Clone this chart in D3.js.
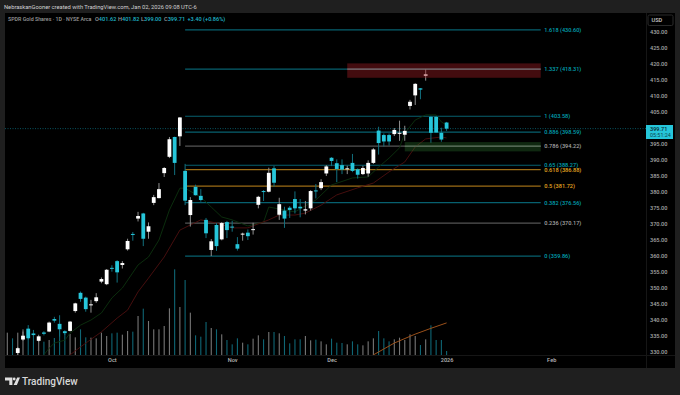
<!DOCTYPE html>
<html><head><meta charset="utf-8">
<script src="https://cdnjs.cloudflare.com/ajax/libs/d3/7.8.5/d3.min.js"></script>
<style>html,body{margin:0;padding:0;background:#1f1f1f;overflow:hidden}svg{display:block}text{font-family:Roboto,"Noto Sans",sans-serif}</style>
</head><body><svg id="c" width="680" height="395"></svg>
<script>
const opens=[327.2,328.4,329.6,333.8,337.2,335.7,333.4,336.0,336.3,340.2,338.7,336.4,336.5,342.7,348.4,346.9,344.5,345.8,351.9,351.1,356.2,358.3,357.1,362.0,366.8,371.6,373.2,367.5,376.5,378.0,385.8,390.9,397.1,397.3,386.5,372.7,381.5,378.7,371.2,361.8,369.6,365.1,370.5,369.1,363.6,366.6,367.2,368.0,375.9,380.2,380.0,387.3,372.8,374.1,375.0,377.7,375.3,374.1,374.8,380.4,381.1,385.7,390.6,388.9,388.3,387.0,389.0,387.0,385.5,385.7,389.0,399.1,397.7,397.7,398.0,398.1,397.8,406.8,410.1,412.3,416.2,403.4,403.4,398.4,401.62];
const highs=[328.0,328.6,331.5,336.3,338.3,336.8,335.3,336.4,339.4,340.9,341.4,336.7,339.6,345.3,348.8,347.2,346.2,348.3,353.2,355.8,357.0,358.6,358.3,365.3,367.4,373.7,373.4,370.4,379.0,382.7,387.7,397.1,397.2,403.3,388.7,378.3,382.2,380.8,371.8,365.2,370.2,370.5,370.9,370.9,365.8,367.2,368.2,370.3,378.7,380.5,387.5,388.1,378.1,375.3,375.5,380.1,377.7,377.1,380.5,382.4,383.9,388.3,390.8,390.1,390.1,388.1,391.8,387.3,388.1,389.8,393.6,400.3,398.2,398.2,399.9,402.2,400.6,408.7,413.9,412.4,418.3,403.7,403.6,400.0,401.82];
const lows=[326.9,327.0,329.0,333.4,333.8,334.7,333.1,335.1,336.1,339.1,334.7,335.2,336.3,342.2,345.6,342.5,342.2,345.3,351.4,350.8,355.0,351.6,356.0,361.6,364.7,370.7,363.0,365.3,375.8,377.9,384.6,390.5,385.2,394.3,375.8,369.1,378.8,376.9,365.5,359.9,361.5,364.8,365.5,367.5,361.6,364.7,364.9,366.6,374.8,377.1,379.8,381.5,371.2,368.7,371.8,373.2,372.0,372.9,374.1,377.9,380.5,384.9,388.0,383.0,385.5,385.5,386.1,384.1,385.2,384.7,388.7,391.6,394.1,394.4,397.4,395.9,395.9,405.7,407.1,408.9,414.7,395.3,398.4,395.6,399.00];
const closes=[327.8,327.6,331.1,335.0,334.2,335.2,334.8,335.6,339.1,339.7,337.0,335.8,339.4,345.1,346.5,343.3,344.8,347.0,352.7,355.6,355.9,354.8,357.7,364.6,366.5,372.4,365.3,369.2,378.3,380.8,387.4,396.4,389.0,403.2,377.2,377.4,378.9,377.4,367.0,364.5,363.0,370.2,368.0,368.9,362.2,366.9,366.1,368.3,378.4,379.9,385.9,382.8,376.1,371.6,374.3,374.8,374.8,374.5,380.2,380.1,383.0,387.9,389.6,387.1,386.9,387.3,386.5,385.3,387.4,389.0,393.2,395.2,395.7,395.7,399.3,398.4,399.0,408.1,413.7,411.9,416.7,398.4,398.5,396.3,399.71];
const volumes=[6.7,5.0,6.7,7.7,7.9,6.3,5.5,4.0,4.5,5.1,7.5,6.5,6.3,5.3,7.7,5.3,5.2,5.0,6.7,5.7,6.5,6.7,6.1,7.2,7.0,11.7,13.9,10.2,7.7,7.7,8.7,14.0,25.7,14.4,22.5,12.7,5.9,5.5,9.9,8.1,7.7,6.2,4.5,3.2,5.0,3.7,3.2,4.9,5.9,4.7,6.9,6.9,6.5,5.7,3.5,4.7,4.7,5.7,4.4,4.6,4.1,3.2,4.9,3.7,3.6,3.2,4.1,3.2,2.9,4.1,5.0,7.2,5.0,4.1,4.7,5.2,4.5,6.2,5.7,3.0,4.7,8.9,4.5,4.5,1.2];
const fastIndex=[7,8,9,11,12,14,16,18,20,22,25,27,29,31,33,34,36,37,39,41,43,46,49,50,55,59,62,66,69,71,73,75,76,78,80,82,83,84];
const fastPrice=[329.0,331.1,332.7,333.6,335.8,338.3,339.9,342.1,346.8,349.9,357.1,359.6,364.9,374.3,381.1,381.1,379.2,378.3,375.2,372.1,371.2,369.3,370.5,375.2,373.7,377.4,382.1,384.3,384.6,387.7,390.5,393.7,398.3,402.4,404.0,404.0,401.8,400.8];
const slowIndex=[12,14,18,21,23,25,27,30,31,33,35,37,40,43,46,50,52,55,57,60,63,67,70,73,76,78,80,83,84];
const slowPrice=[329.0,331.5,336.2,340.5,343.0,348.7,353.0,359.6,362.4,368.0,369.6,371.2,370.2,368.7,368.7,371.2,372.7,372.7,373.3,375.8,379.0,381.2,382.7,386.2,389.3,394.0,396.5,397.1,396.8];
const trendIndex=[70,74,78,81,84];
const trendPrice=[329.0,332.7,335.5,337.3,339.0];
const fibRatios=["1.618","1.337","1","0.886","0.786","0.65","0.618","0.5","0.382","0.236","0"];
const fibLevels=[430.60,418.31,403.58,398.59,394.22,388.27,386.88,381.72,376.56,370.17,359.86];
const fibKinds=["t","t","t","t","g","t","o","o","t","g","t"];
const priceTicks=d3.range(330,431,5);
const monthIndex=[20,43,62,84,104];
const monthNames=["Oct","Nov","Dec","2026","Feb"];
const fibStartIndex=34,fibEndIndex=102;
const redZone=[420.1,415.6];const redStart=65;
const greenZone=[395.5,392.6];const greenStart=76;
const lastPrice=399.71;

const svg=d3.select("#c");
const x=d3.scaleLinear().domain([0,84]).range([7.3,446.6]);
const y=d3.scaleLinear().domain([420,330]).range([63.7,351.7]);
const yv=d3.scaleLinear().domain([0,30]).range([355,255]);
const UP="#ffffff",DN="#26c6da";
svg.append("rect").attr("width",680).attr("height",395).attr("fill","#1f1f1f");
svg.append("rect").attr("x",5).attr("y",13).attr("width",670).attr("height",355).attr("fill","#000");
svg.append("defs").append("clipPath").attr("id","pane").append("rect").attr("x",5).attr("y",13).attr("width",641).attr("height",342);
svg.append("line").attr("x1",646.5).attr("x2",646.5).attr("y1",13).attr("y2",368).attr("stroke","#161616");
svg.append("line").attr("x1",5).attr("x2",675).attr("y1",355.5).attr("y2",355.5).attr("stroke","#161616");

const g=svg.append("g").attr("clip-path","url(#pane)");
const idx=d3.range(opens.length);
// volume
g.selectAll(".v").data(idx).join("rect").attr("class","v")
 .attr("x",i=>x(i)-0.55).attr("width",1.1).attr("y",i=>yv(volumes[i])).attr("height",i=>355-yv(volumes[i]))
 .attr("fill",i=>closes[i]>=opens[i]?"#767676":"#0f6675");
const zx2=x(fibEndIndex);
// fib lines
const fibLine={t:"#07606f",g:"#555555",o:"#9c6d16"},fibText={t:"#00a0b2",g:"#a6a6a6",o:"#e8a820"};
fibLevels.forEach((v,k)=>{
 g.append("line").attr("x1",x(fibStartIndex)).attr("x2",zx2).attr("y1",y(v)).attr("y2",y(v)).attr("stroke",fibLine[fibKinds[k]]).attr("stroke-width",1.2);
 svg.append("text").attr("x",544.3).attr("y",y(v)+2).attr("font-size",5.6).attr("font-weight",500).attr("fill",fibText[fibKinds[k]]).text(fibRatios[k]+" ("+v.toFixed(2)+")");
});
// last price
g.append("line").attr("x1",5).attr("x2",646).attr("y1",y(lastPrice)).attr("y2",y(lastPrice)).attr("stroke","#0a6a78").attr("stroke-dasharray","1 1.5").attr("stroke-width",0.8);
// EMAs & trend
const ln=d3.line().x(d=>x(d[0])).y(d=>y(d[1]));
g.append("path").attr("d",ln(fastIndex.map((v,i)=>[v,fastPrice[i]]))).attr("fill","none").attr("stroke","#0c320f").attr("stroke-width",0.9);
g.append("path").attr("d",ln(slowIndex.map((v,i)=>[v,slowPrice[i]]))).attr("fill","none").attr("stroke","#4e1010").attr("stroke-width",0.9);
g.append("path").attr("d",ln(trendIndex.map((v,i)=>[v,trendPrice[i]]))).attr("fill","none").attr("stroke","#9a501a").attr("stroke-width",1);
// candles
g.selectAll(".w").data(idx).join("line").attr("class","w")
 .attr("x1",i=>x(i)).attr("x2",i=>x(i)).attr("y1",i=>y(highs[i])).attr("y2",i=>y(lows[i]))
 .attr("stroke",i=>closes[i]>=opens[i]?"#8f8f8f":"#12707f").attr("stroke-width",1);
g.selectAll(".b").data(idx).join("rect").attr("class","b")
 .attr("x",i=>x(i)-1.9).attr("width",3.8)
 .attr("y",i=>y(Math.max(opens[i],closes[i])))
 .attr("height",i=>Math.max(1,Math.abs(y(opens[i])-y(closes[i]))))
 .attr("fill",i=>closes[i]>=opens[i]?UP:DN);
// zones, translucent over the candles
g.append("rect").attr("x",x(redStart)).attr("width",zx2-x(redStart)).attr("y",y(redZone[0])).attr("height",y(redZone[1])-y(redZone[0])).attr("fill","#a01c24").attr("fill-opacity",0.42);
g.append("rect").attr("x",x(greenStart)).attr("width",zx2-x(greenStart)).attr("y",y(greenZone[0])).attr("height",y(greenZone[1])-y(greenZone[0])).attr("fill","#2e7d32").attr("fill-opacity",0.32);
g.append("line").attr("x1",x(redStart)).attr("x2",zx2).attr("y1",y(418.31)).attr("y2",y(418.31)).attr("stroke","#8a7878").attr("stroke-width",1);
g.append("line").attr("x1",x(greenStart)).attr("x2",zx2).attr("y1",y(394.22)).attr("y2",y(394.22)).attr("stroke","#5f725f").attr("stroke-width",1);
// axes
const ay=svg.append("g").attr("transform","translate(650,0)")
 .call(d3.axisRight(y).tickValues(priceTicks).tickSize(0).tickPadding(0).tickFormat(d3.format(".2f")));
ay.select(".domain").remove();
ay.selectAll("text").attr("fill","#a8a8a8").attr("font-size",5.6).attr("font-family","Roboto").attr("font-weight",500);
const ax=svg.append("g").attr("transform","translate(0,355)")
 .call(d3.axisBottom(x).tickValues(monthIndex).tickSize(0).tickPadding(3).tickFormat((d,i)=>monthNames[i]));
ax.select(".domain").remove();
ax.selectAll("text").attr("fill","#b8b8b8").attr("font-size",5.6).attr("font-family","Roboto").attr("font-weight",500);
// USD
svg.append("rect").attr("x",648).attr("y",15).attr("width",25).attr("height",10.5).attr("rx",1.5).attr("fill","#000").attr("stroke","#2a2a2a");
svg.append("text").attr("x",651.5).attr("y",22.3).attr("font-size",5.6).attr("font-weight",500).attr("fill","#c8c8c8").text("USD");
// last price tag
svg.append("rect").attr("x",646).attr("y",125).attr("width",27).attr("height",14).attr("fill",DN);
svg.append("text").attr("x",650).attr("y",131).attr("font-size",5.6).attr("font-weight",500).attr("fill","#062a30").text("399.71");
svg.append("text").attr("x",650).attr("y",137.2).attr("font-size",5.4).attr("fill","#0d4650").text("05:51:24");
// titles
svg.append("text").attr("x",4).attr("y",8.8).attr("font-size",5.75).attr("fill","#d0d0d0").text("NebraskanGooner created with TradingView.com, Jan 02, 2026 09:08 UTC-6");
const leg=svg.append("text").attr("y",21).attr("font-size",5.6).attr("font-weight",500).attr("fill","#9a9a9a");
leg.append("tspan").attr("x",8).attr("font-size",5.3).text("SPDR Gold Shares · 1D · NYSE Arca");
[["O","401.62",95],["H","401.82",118],["L","399.00",141],["C","399.71",164]].forEach(p=>{
 leg.append("tspan").attr("x",p[2]).text(p[0]);
 leg.append("tspan").attr("fill","#1fb6c9").text(p[1]);
});
leg.append("tspan").attr("x",187.5).attr("fill","#1fb6c9").text("+3.40 (+0.86%)");
// logo
svg.append("path").attr("fill","#e0e0e0").attr("d","M5 377.5H12.4V385H9.3V380.4H5ZM17.2 377.5H20L16.9 385H13.6Z");
svg.append("circle").attr("cx",14.2).attr("cy",379).attr("r",1.4).attr("fill","#e0e0e0");
svg.append("text").attr("x",22).attr("y",385).attr("font-size",10).attr("font-weight",500).attr("fill","#d8d8d8").attr("font-family","Inter").text("TradingView");
</script></body></html>
